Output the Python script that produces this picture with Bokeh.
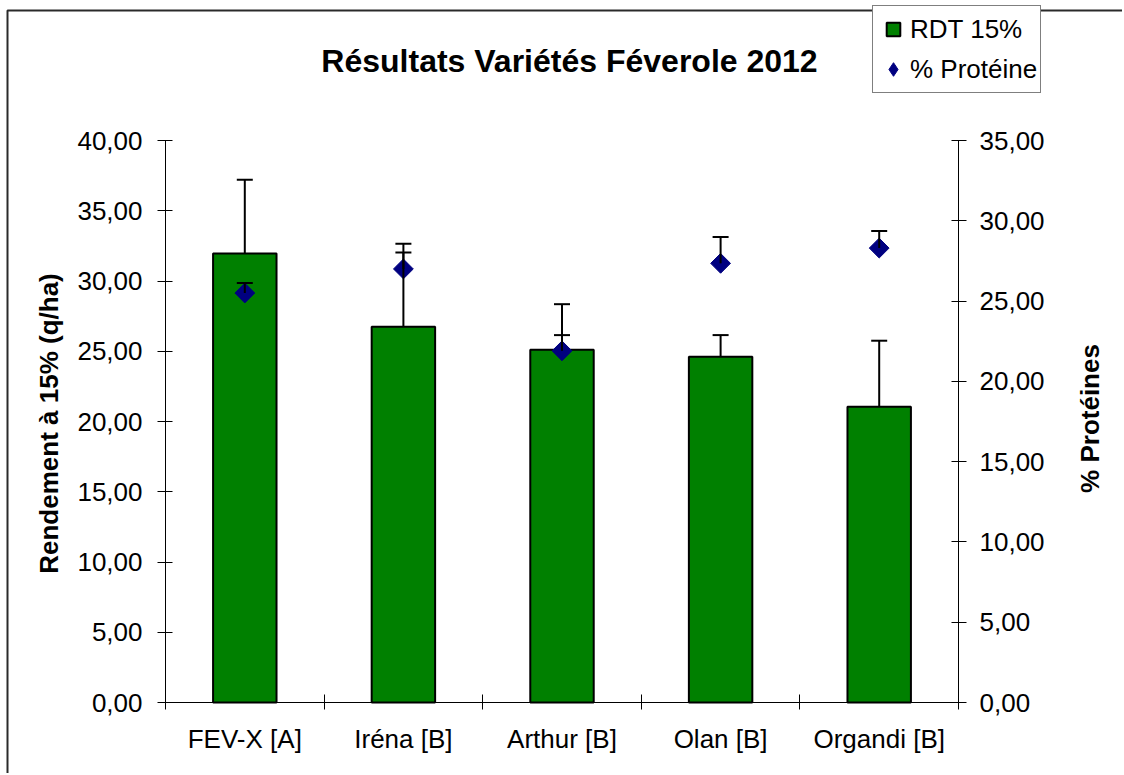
import numpy as np
from bokeh.plotting import figure
from bokeh.models import (Range1d, LinearAxis, FixedTicker, CustomJSTickFormatter,
                          ColumnDataSource, Whisker, TeeHead, Legend, LegendItem, Label,
                          BoxAnnotation)
from bokeh.embed import file_html
from bokeh.resources import INLINE

# ---- data ----
varietes = ["FEV-X [A]", "Iréna [B]", "Arthur [B]", "Olan [B]", "Organdi [B]"]
rdt = [31.95, 26.75, 25.10, 24.60, 21.05]
rdt_err = [5.25, 5.90, 3.25, 1.55, 4.70]
proteine = [25.50, 27.00, 21.90, 27.35, 28.30]
proteine_err = [0.62, 1.02, 0.98, 1.64, 1.06]
left_ticks = [0, 5, 10, 15, 20, 25, 30, 35, 40]
right_ticks = [0, 5, 10, 15, 20, 25, 30, 35]
titre = "Résultats Variétés Féverole 2012"
label_gauche = "Rendement à 15% (q/ha)"
label_droite = "% Protéines"
legende = ["RDT 15%", "% Protéine"]

FONT = "Liberation Sans"

# ---- layout (pixels, canvas = whole page) ----
W, H = 1122, 773
PX_L, PX_R = 165, 958          # plot area left / right
PY_T, PY_B = 140, 702          # plot area top / bottom (from page top)
n = len(varietes)
xs = (PX_R - PX_L) / n                         # px per category
yls = (PY_B - PY_T) / left_ticks[-1]            # px per unit, left axis
yrs = (PY_B - PY_T) / right_ticks[-1]           # px per unit, right axis

x_range = Range1d(-PX_L / xs, n + (W - PX_R) / xs)
y_range = Range1d(-(H - PY_B) / yls, left_ticks[-1] + PY_T / yls)
yr_range = Range1d(-(H - PY_B) / yrs, right_ticks[-1] + PY_T / yrs)

x = np.arange(n) + 0.5
src = ColumnDataSource(dict(
    x=x, rdt=rdt, rdt_up=np.array(rdt) + np.array(rdt_err),
    prot=proteine, prot_up=np.array(proteine) + np.array(proteine_err)))

p = figure(width=W, height=H, x_range=x_range, y_range=y_range,
           output_backend="svg", toolbar_location=None, title=None,
           x_axis_location=None, y_axis_location=None,
           min_border_left=0, min_border_right=0,
           min_border_top=0, min_border_bottom=0)
p.extra_y_ranges = {"prot": yr_range}
p.grid.visible = False
p.outline_line_color = None
p.background_fill_color = "white"
p.border_fill_color = "white"

# outer chart border (only its top and left edges are inside the page)
p.add_layout(BoxAnnotation(left=7, right=W + 20, top=H - 10, bottom=-20,
                           left_units="screen", right_units="screen",
                           top_units="screen", bottom_units="screen",
                           fill_alpha=0, fill_color=None,
                           line_color="#2a2a2a", line_alpha=1, line_width=2,
                           level="underlay"))

fmt = CustomJSTickFormatter(code="return tick.toFixed(2).replace('.', ',');")

def style_axis(ax):
    ax.axis_line_color = "black"
    ax.axis_line_width = 1
    ax.major_tick_line_color = "black"
    ax.major_tick_in = 7
    ax.major_tick_out = 8
    ax.minor_tick_line_color = None
    ax.major_label_text_font = FONT
    ax.major_label_text_font_size = "26px"
    ax.major_label_text_color = "black"

yl = LinearAxis(ticker=FixedTicker(ticks=left_ticks), formatter=fmt,
                bounds=(left_ticks[0], left_ticks[-1]), fixed_location=0)
style_axis(yl)
yl.major_label_standoff = 15
p.add_layout(yl, "left")

yr = LinearAxis(y_range_name="prot", ticker=FixedTicker(ticks=right_ticks), formatter=fmt,
                bounds=(right_ticks[0], right_ticks[-1]), fixed_location=n)
style_axis(yr)
yr.major_label_standoff = 13
p.add_layout(yr, "right")

# x axis: labels at category centres, tick marks at category boundaries
xa = LinearAxis(ticker=FixedTicker(ticks=list(x), minor_ticks=list(range(n + 1))),
                major_label_overrides={float(v): t for v, t in zip(x, varietes)},
                bounds=(0, n), fixed_location=0)
style_axis(xa)
xa.major_tick_line_color = None
xa.major_tick_in = 0
xa.major_tick_out = 0
xa.minor_tick_line_color = "black"
xa.minor_tick_in = 8
xa.minor_tick_out = 7
xa.major_label_standoff = 14
p.add_layout(xa, "below")

bars = p.vbar(x="x", top="rdt", width=0.4, bottom=0, source=src,
              fill_color="#008000", line_color="black", line_width=2)

w1 = Whisker(base="x", lower="rdt", upper="rdt_up", source=src, level="glyph",
             line_color="black", line_width=2,
             upper_head=TeeHead(size=16, line_color="black", line_width=2),
             lower_head=None)
p.add_layout(w1)
w2 = Whisker(base="x", lower="prot", upper="prot_up", source=src, level="glyph",
             y_range_name="prot", line_color="black", line_width=2,
             upper_head=TeeHead(size=16, line_color="black", line_width=2),
             lower_head=None)
p.add_layout(w2)

pts = p.scatter(x="x", y="prot", source=src, y_range_name="prot", marker="square",
                angle=np.pi / 4, size=14, fill_color="#000080", line_color="#000080")

# legend swatches (renderers with a single non-drawn point, used only for the legend look)
leg_rdt = p.scatter(x=[np.nan], y=[np.nan], marker="square", fill_color="#008000",
                    line_color="black", line_width=2)
leg_prot = p.scatter(x=[np.nan], y=[np.nan], marker="diamond", fill_color="#000080",
                     line_color="#000080")

legend = Legend(items=[LegendItem(label=legende[0], renderers=[leg_rdt], index=0),
                       LegendItem(label=legende[1], renderers=[leg_prot], index=0)],
                location=(872, H - 93), orientation="vertical",
                label_text_font=FONT, label_text_font_size="26px",
                label_text_color="black",
                glyph_width=34, glyph_height=40, label_standoff=0,
                label_height=40,
                spacing=0, padding=3, margin=0,
                border_line_color="black", border_line_width=1,
                background_fill_color="white", background_fill_alpha=1)
p.add_layout(legend, "center")

p.add_layout(Label(x=569, y=H - 60, x_units="screen", y_units="screen", text=titre,
                   text_font=FONT, text_font_size="32px", text_font_style="bold",
                   text_color="black", text_align="center", text_baseline="alphabetic"))
p.add_layout(Label(x=48, y=H - 423, x_units="screen", y_units="screen", text=label_gauche,
                   angle=np.pi / 2, text_font=FONT, text_font_size="26px",
                   text_font_style="bold", text_color="black",
                   text_align="center", text_baseline="middle"))
p.add_layout(Label(x=1089, y=H - 418, x_units="screen", y_units="screen", text=label_droite,
                   angle=np.pi / 2, text_font=FONT, text_font_size="26px",
                   text_font_style="bold", text_color="black",
                   text_align="center", text_baseline="middle"))

open("out.html", "w").write(file_html(p, INLINE))
